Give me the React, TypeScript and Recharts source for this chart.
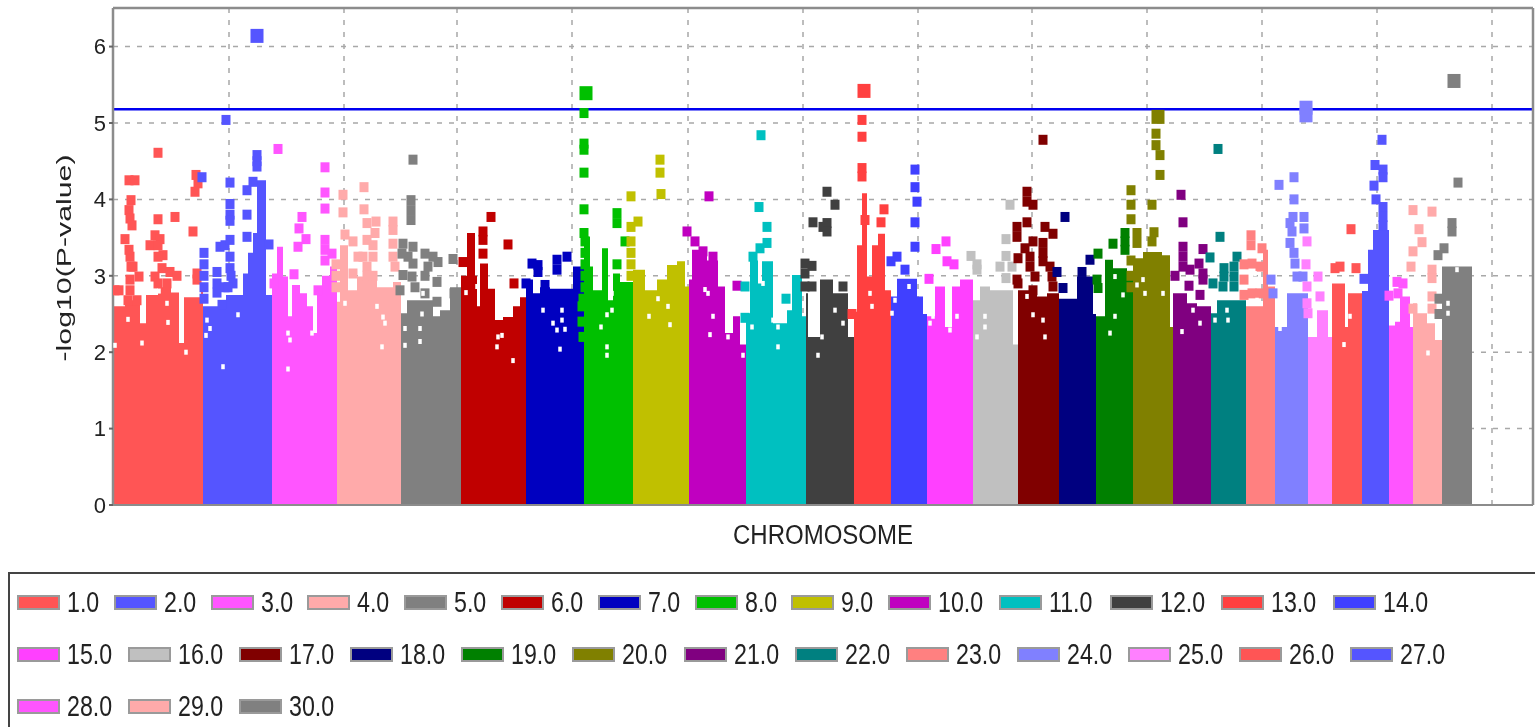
import React from "react";
import {
  ComposedChart, Area, Scatter, XAxis, YAxis, CartesianGrid, ReferenceLine, Legend, Label,
} from "recharts";

type Pair = [number, number];

const chromLabels = ["1.0","2.0","3.0","4.0","5.0","6.0","7.0","8.0","9.0","10.0","11.0","12.0","13.0","14.0","15.0","16.0","17.0","18.0","19.0","20.0","21.0","22.0","23.0","24.0","25.0","26.0","27.0","28.0","29.0","30.0"];
const chromColors = ["#FF5555","#5555FF","#FF55FF","#FFAAAA","#808080","#C00000","#0000C0","#00C000","#C0C000","#C000C0","#00C0C0","#404040","#FF4040","#4040FF","#FF40FF","#C0C0C0","#800000","#000080","#008000","#808000","#800080","#008080","#FF8080","#8080FF","#FF80FF","#FF5555","#5555FF","#FF55FF","#FFAAAA","#808080"];
const chromEnds = [90,159,224,288,348,413,471,520,576,633,693,741,778,814,860,905,946,983,1020,1060,1098,1133,1162,1195,1219,1249,1276,1300,1329,1359];
const yTicks = [0,1,2,3,4,5,6];
const xGridTicks = [116,231,344,459,575,690,805,919,1034,1149,1264,1379];
const significanceLine = 5.18;

// Solid mass of each chromosome: [position, upper -log10(p)]
const env1: Pair[] = [[0,2.6],[12,2.68],[27,2.38],[33,2.75],[45,2.85],[58,2.78],[66,2.12],[71,2.72],[88,2.8]];
const env2: Pair[] = [[90,2.6],[110,2.57],[113,2.75],[130,3.03],[135,3.3],[140,3.56],[144,4.25],[153,2.75]];
const env3: Pair[] = [[159,3.03],[164,3.38],[170,2.99],[175,2.47],[179,2.88],[187,2.77],[194,2.6],[200,2.25],[204,2.77],[209,3.0],[217,3.12]];
const env4: Pair[] = [[224,2.66],[227,3.4],[235,2.81],[244,2.99],[264,2.85],[280,2.92]];
const env5: Pair[] = [[288,2.51],[294,2.68],[320,2.47],[327,2.55],[337,2.85]];
const env6: Pair[] = [[348,3.0],[354,3.56],[362,3.0],[364,2.6],[367,3.16],[375,2.83],[382,2.42],[390,2.46],[400,2.6],[407,2.72]];
const env7: Pair[] = [[413,2.95],[420,2.77],[427,2.85],[437,2.83],[460,3.12]];
const env8: Pair[] = [[471,3.51],[477,3.12],[480,2.81],[489,3.36],[495,2.68],[500,3.03],[507,2.92]];
const env9: Pair[] = [[520,3.08],[532,2.81],[544,2.95],[554,3.14],[564,3.19],[572,2.86]];
const env10: Pair[] = [[576,2.95],[579,3.34],[594,3.2],[605,2.86],[612,2.25],[620,2.47],[627,2.1]];
const env11: Pair[] = [[633,2.51],[637,3.2],[645,2.9],[649,3.19],[660,2.38],[674,2.55],[679,3.01],[689,2.47]];
const env12: Pair[] = [[693,2.77],[695,2.2],[707,2.95],[720,2.77],[735,2.2]];
const env13: Pair[] = [[741,2.53],[744,3.4],[749,4.08],[754,2.99],[759,3.4],[765,3.55],[772,2.81]];
const env14: Pair[] = [[778,2.73],[784,2.96],[804,2.73],[810,2.5]];
const env15: Pair[] = [[814,2.47],[822,2.86],[832,2.33],[839,2.86],[847,2.95]];
const env16: Pair[] = [[860,2.68],[867,2.86],[877,2.81],[900,2.1]];
const env17: Pair[] = [[905,2.81],[924,2.73],[934,2.77]];
const env18: Pair[] = [[946,2.7],[964,2.99],[980,2.5]];
const env19: Pair[] = [[983,2.47],[992,3.21],[1000,3.1],[1014,3.03]];
const env20: Pair[] = [[1020,3.23],[1030,3.31],[1049,3.27],[1057,2.33]];
const env21: Pair[] = [[1060,2.77],[1074,2.64],[1084,2.6]];
const env22: Pair[] = [[1098,2.51],[1104,2.68],[1117,2.68]];
const env23: Pair[] = [[1133,2.6],[1150,3.34],[1155,2.86]];
const env24: Pair[] = [[1162,2.33],[1174,2.77]];
const env25: Pair[] = [[1195,2.2],[1204,2.55],[1215,2.2]];
const env26: Pair[] = [[1219,2.9],[1232,2.33],[1235,2.77]];
const env27: Pair[] = [[1249,2.8],[1255,3.34],[1260,3.6]];
const env28: Pair[] = [[1276,2.35],[1282,2.4],[1287,2.73],[1297,2.33]];
const env29: Pair[] = [[1300,2.64],[1304,2.51],[1314,2.38],[1322,2.16]];
const env30: Pair[] = [[1329,3.12]];

// Individual markers above the solid mass
const pts1: Pair[] = [[2,2.81],[6,2.81],[17,2.95],[17,2.81],[24,2.68],[15,2.68],[17,3.25],[20,3.12],[26,2.99],[18,3.12],[12,3.48],[16,3.34],[18,3.99],[16,3.86],[17,3.75],[19,3.66],[16,4.25],[22,4.25],[45,4.61],[45,3.74],[62,3.77],[80,3.58],[42,3.53],[47,3.48],[37,3.4],[45,3.4],[50,3.27],[45,3.25],[49,3.1],[57,3.05],[64,3.0],[42,2.99],[45,2.9],[54,2.9],[84,3.03],[84,2.95],[83,4.32],[85,4.21],[82,4.1]];
const pts2: Pair[] = [[91,3.3],[91,3.15],[91,3.0],[91,2.85],[91,2.7],[104,3.05],[104,2.9],[104,2.78],[109,2.62],[112,2.85],[117,3.25],[117,3.1],[118,3],[120,2.9],[115,2.85],[107,3.38],[112,3.4],[117,3.47],[117,3.94],[117,3.8],[117,3.72],[117,4.22],[113,5.04],[89,4.29],[144,4.5],[144,4.58],[144,4.43],[134,4.12],[140,4.23],[134,3.8],[134,3.51],[156,3.41]];
const pts3: Pair[] = [[161,2.9],[165,4.66],[212,4.42],[212,4.09],[212,3.88],[189,3.77],[186,3.62],[193,3.48],[185,3.38],[181,3.02],[212,3.47],[212,3.34],[212,3.2],[219,3.29],[205,2.81]];
const pts4: Pair[] = [[223,3.15],[223,3.0],[223,2.85],[230,4.06],[230,3.83],[232,3.54],[240,3.45],[240,3.03],[251,4.16],[251,3.87],[254,3.69],[263,3.71],[262,3.56],[254,3.47],[260,3.4],[250,3.25],[260,3.25],[245,3.25],[254,3.12],[254,3.0],[260,3.0],[280,3.71],[280,3.6],[280,3.42],[280,3.25],[282,3.12]];
const pts5: Pair[] = [[300,4.52],[298,3.99],[298,3.86],[298,3.73],[290,3.42],[300,3.38],[289,3.29],[295,3.25],[300,3.16],[290,3.01],[287,2.81],[299,2.99],[302,2.85],[312,3.29],[320,3.25],[325,3.18],[315,3.12],[312,3.0],[324,2.92],[312,2.77],[324,2.66],[340,3.22],[341,2.77]];
const pts6: Pair[] = [[378,3.77],[370,3.58],[370,3.47],[370,3.29],[395,3.41],[401,2.9],[350,3.18]];
const pts7: Pair[] = [[413,2.9],[419,3.16],[425,3.14],[425,3.05],[444,3.21],[454,3.25],[444,3.08],[432,2.88]];
const pts8: Pair[] = [[472,3.45],[472,3.3],[472,3.15],[472,3.0],[472,2.85],[470,2.7],[469,2.6],[469,2.4],[470,2.2],[471,5.13],[471,4.73],[471,4.65],[471,4.35],[471,3.87],[471,3.56],[504,3.82],[504,3.69],[512,3.45],[504,3.15]];
const pts9: Pair[] = [[518,3.45],[518,3.3],[518,3.15],[518,3.0],[547,4.52],[547,4.35],[548,4.07],[518,4.04],[525,3.71],[518,3.64]];
const pts10: Pair[] = [[596,4.04],[574,3.58],[582,3.45],[624,2.87],[590,3.32],[600,3.25]];
const pts11: Pair[] = [[632,2.45],[648,4.84],[646,3.9],[654,3.64],[654,3.43],[647,3.36],[640,3.25],[673,2.7],[632,2.86]];
const pts12: Pair[] = [[714,4.1],[722,3.93],[700,3.7],[714,3.69],[710,3.64],[714,3.58],[692,3.16],[699,3.13],[692,3.03],[699,2.86],[692,2.86],[730,2.86]];
const pts13: Pair[] = [[739,2.5],[749,5.04],[749,4.82],[749,4.41],[749,4.3],[771,3.87],[768,3.7],[752,3.73]];
const pts14: Pair[] = [[802,4.39],[802,4.16],[804,3.97],[802,3.7],[802,3.38],[784,3.25],[778,3.19],[792,3.08]];
const pts15: Pair[] = [[823,3.35],[833,3.45],[834,3.19],[841,3.15],[816,2.96]];
const pts16: Pair[] = [[897,3.93],[893,3.48],[858,3.26],[864,3.15],[864,3.08],[893,3.26],[887,3.12],[899,3.12],[893,2.97]];
const pts17: Pair[] = [[930,4.78],[914,4.1],[914,3.97],[920,3.93],[914,3.7],[932,3.64],[940,3.55],[904,3.64],[904,3.51],[920,3.45],[912,3.36],[930,3.43],[930,3.3],[905,3.23],[917,3.25],[930,3.19],[937,3.12],[917,3.12],[922,2.99],[904,2.95],[939,2.99],[940,2.86],[920,2.81],[905,2.9]];
const pts18: Pair[] = [[952,3.77],[977,3.21],[969,3.05],[950,2.84],[944,3.05]];
const pts19: Pair[] = [[1012,3.56],[1012,3.45],[1012,3.34],[1000,3.42],[985,3.29],[984,2.95],[985,2.84]];
const pts20: Pair[] = [[1018,3.2],[1018,3.0],[1018,2.85],[1043,4.86],[1043,4.71],[1047,4.58],[1047,4.32],[1018,4.12],[1018,3.93],[1018,3.74],[1039,3.93],[1024,3.56],[1041,3.57],[1039,3.45],[1024,3.43]];
const pts21: Pair[] = [[1068,4.06],[1070,3.7],[1070,3.38],[1070,3.25],[1090,3.35],[1086,3.16],[1077,3.08],[1090,3.03],[1090,2.95],[1062,3.0],[1070,3.12],[1076,2.87],[1087,2.75]];
const pts22: Pair[] = [[1105,4.66],[1107,3.51],[1097,3.24],[1124,3.25],[1111,3.1],[1121,3.12],[1111,2.99],[1121,2.99],[1100,2.9],[1110,2.86],[1121,2.86]];
const pts23: Pair[] = [[1131,3.15],[1131,2.95],[1131,2.75],[1138,3.53],[1138,3.4],[1149,3.36],[1139,3.16],[1147,3.12],[1139,2.77],[1147,2.77]];
const pts24: Pair[] = [[1181,4.29],[1166,4.19],[1181,4.0],[1180,3.77],[1177,3.69],[1179,3.58],[1191,3.77],[1191,3.62],[1177,3.43],[1181,3.3],[1182,3.16],[1184,2.99],[1190,2.99],[1158,2.95],[1160,2.77]];
const pts25: Pair[] = [[1194,3.45],[1193,3.15],[1205,2.99],[1194,2.86],[1207,2.73],[1194,2.64],[1195,2.51]];
const pts26: Pair[] = [[1238,3.61],[1222,3.1],[1227,3.12],[1243,3.1]];
const pts27: Pair[] = [[1269,4.78],[1262,4.45],[1270,4.39],[1270,4.29],[1261,4.18],[1263,4.0],[1270,3.9],[1270,3.77],[1270,3.66],[1251,2.96]];
const pts28: Pair[] = [[1284,2.92],[1290,2.9],[1285,2.77],[1276,2.74]];
const pts29: Pair[] = [[1300,3.86],[1319,3.84],[1306,3.61],[1309,3.44],[1300,3.32],[1298,3.12],[1319,3.08],[1319,2.97],[1319,2.73],[1319,2.57],[1300,2.57]];
const pts30: Pair[] = [[1326,2.7],[1326,2.5],[1345,4.22],[1339,3.69],[1339,3.58],[1331,3.36],[1325,3.27]];

// Genome-wide significant markers, drawn larger
const sigChroms = [2,8,13,20,24,24,30];
const sigX = [144,473,751,1045,1193,1193,1341];
const sigY = [6.14,5.39,5.42,5.08,5.2,5.1,5.55];

// Positions where no marker covers the mass
const holes: Pair[] = [[29,2.12],[55,2.39],[54,2.64],[46,2.8],[73,2.0],[2,2.09],[15,2.43],[97,2.31],[94,2.42],[125,2.49],[110,1.81],[93,2.22],[175,2.25],[177,2.16],[199,2.25],[175,1.78],[270,2.46],[272,2.38],[264,2.6],[269,2.07],[232,2.64],[307,2.14],[292,2.31],[292,2.09],[309,2.5],[307,2.31],[310,2.77],[385,2.2],[384,2.07],[389,2.22],[364,2.86],[400,1.89],[353,2.78],[440,2.38],[444,2.29],[449,2.55],[449,2.42],[430,2.55],[452,2.3],[447,2.04],[494,2.49],[499,2.55],[494,2.07],[494,1.96],[488,2.33],[499,2.77],[555,2.6],[557,2.36],[536,2.47],[545,2.7],[597,2.23],[615,2.2],[595,2.77],[592,2.82],[600,2.47],[630,1.96],[665,2.07],[665,2.33],[639,2.33],[650,2.9],[660,2.42],[705,1.96],[709,2.2],[722,2.55],[730,2.38],[757,2.77],[759,2.6],[796,2.86],[782,2.68],[779,2.51],[834,2.51],[817,2.38],[844,2.47],[820,2.47],[837,2.29],[872,2.47],[864,2.2],[872,2.33],[930,2.42],[914,2.73],[920,2.49],[932,2.2],[997,2.25],[1002,2.47],[1010,2.75],[1002,2.99],[1030,2.95],[1024,2.88],[1032,2.77],[1050,2.77],[1069,2.27],[1087,2.38],[1080,2.55],[1114,2.55],[1115,2.42],[1102,2.42],[1144,2.68],[1139,2.95],[1142,3.03],[1167,2.31],[1172,2.51],[1231,2.1],[1237,2.47],[1335,2.51],[1335,2.64],[1344,3.08],[1315,1.99]];

const envelopes = [env1,env2,env3,env4,env5,env6,env7,env8,env9,env10,env11,env12,env13,env14,env15,env16,env17,env18,env19,env20,env21,env22,env23,env24,env25,env26,env27,env28,env29,env30];
const markers = [pts1,pts2,pts3,pts4,pts5,pts6,pts7,pts8,pts9,pts10,pts11,pts12,pts13,pts14,pts15,pts16,pts17,pts18,pts19,pts20,pts21,pts22,pts23,pts24,pts25,pts26,pts27,pts28,pts29,pts30];

const toRows = (pairs: Pair[]) => pairs.map(([x, y]) => ({ x, y }));
const envRows = (pairs: Pair[], end: number) => [...toRows(pairs), { x: end, y: pairs[pairs.length - 1][1] }];

const makeSquare = (w: number, h: number, fill: string) => (props: any) => (
  <rect x={props.cx - w / 2} y={props.cy - h / 2} width={w} height={h} fill={fill} />
);

const legendRows = [chromLabels.slice(0, 14), chromLabels.slice(14, 27), chromLabels.slice(27)];
const legendRowTops = [20, 72, 124];

const FineLegend = () => (
  <div style={{ position: "relative", width: 1535, height: 170, boxSizing: "border-box", borderTop: "2px solid #444", borderLeft: "2px solid #444", background: "#fff", fontFamily: "'Liberation Sans', Arial, sans-serif" }}>
    {legendRows.map((row, r) => (
      <div key={r} style={{ position: "absolute", left: 7, top: legendRowTops[r], display: "flex", whiteSpace: "nowrap" }}>
        {row.map((label) => {
          const colour = chromColors[chromLabels.indexOf(label)];
          return (
            <div key={label} style={{ width: label.length > 3 ? 111.1 : 96.8, display: "flex", alignItems: "center", height: 16 }}>
              <span style={{ display: "block", width: 43, height: 15, boxSizing: "border-box", background: colour, border: "2px solid #9a9a9a" }} />
              <span style={{ display: "block", marginLeft: 7, fontSize: 29, lineHeight: "16px", color: "#222", transform: "scaleX(0.8)", transformOrigin: "left center" }}>{label}</span>
            </div>
          );
        })}
      </div>
    ))}
  </div>
);

const AxisTitleX = () => (
  <text x={823} y={544} textAnchor="middle" fontSize={27} fill="#222" textLength={180} lengthAdjust="spacingAndGlyphs" fontFamily="'Liberation Sans', Arial, sans-serif">
    CHROMOSOME
  </text>
);

const AxisTitleY = () => {
  const cx = 71;
  const cy = 258;
  return (
    <text x={cx} y={cy} transform={`rotate(-90 ${cx} ${cy})`} textAnchor="middle" fontSize={21} fill="#222" textLength={207} lengthAdjust="spacingAndGlyphs" fontFamily="'Liberation Sans', Arial, sans-serif">
      -log10(P-value)
    </text>
  );
};

const NoTick = () => <g />;

export default function App() {
  return (
    <div style={{ position: "absolute", left: 0, top: 0, width: 1535, height: 727, overflow: "hidden", background: "#fff", filter: "blur(0.5px)" }}>
      <ComposedChart width={1535} height={727} margin={{ top: 8, right: 2, bottom: 22, left: 0 }}>
        <CartesianGrid stroke="#a8a8a8" strokeWidth={1.5} strokeDasharray="5 7" />
        <XAxis dataKey="x" type="number" domain={[0, 1420]} ticks={xGridTicks} interval={0} tick={NoTick} tickLine={false} axisLine={false} height={30} allowDataOverflow>
          <Label content={<AxisTitleX />} />
        </XAxis>
        <YAxis type="number" dataKey="y" domain={[0, 6.505]} ticks={yTicks} width={113} tick={{ fontSize: 22, fill: "#222", fontFamily: "'Liberation Sans', Arial, sans-serif" }} tickLine={{ stroke: "#666", strokeWidth: 2 }} tickSize={4} tickMargin={3} axisLine={false} allowDataOverflow>
          <Label content={<AxisTitleY />} />
        </YAxis>
        {envelopes.map((pairs, i) => (
          <Area key={`env${i}`} data={envRows(pairs, chromEnds[i])} dataKey="y" type="stepAfter" stroke="none" fill={chromColors[i]} fillOpacity={1} baseValue={0} dot={false} activeDot={false} isAnimationActive={false} legendType="none" />
        ))}
        {markers.map((pairs, i) => (
          <Scatter key={`pts${i}`} data={toRows(pairs)} dataKey="y" fill={chromColors[i]} shape={makeSquare(9, 10, chromColors[i])} isAnimationActive={false} legendType="none" />
        ))}
        <Scatter data={toRows(holes)} dataKey="y" fill="#fff" shape={makeSquare(3.5, 5, "#fff")} isAnimationActive={false} legendType="none" />
        {sigChroms.map((c, i) => (
          <Scatter key={`sig${i}`} data={[{ x: sigX[i], y: sigY[i] }]} dataKey="y" fill={chromColors[c - 1]} shape={makeSquare(13, 14, chromColors[c - 1])} isAnimationActive={false} legendType="none" />
        ))}
        <ReferenceLine y={significanceLine} stroke="#0000F0" strokeWidth={2.5} />
        <ReferenceLine x={0} stroke="#8c8c8c" strokeWidth={2.5} />
        <ReferenceLine x={1420} stroke="#8c8c8c" strokeWidth={2.5} />
        <ReferenceLine y={0} stroke="#8c8c8c" strokeWidth={2} />
        <ReferenceLine y={6.505} stroke="#8c8c8c" strokeWidth={2.5} />
        <Legend content={<FineLegend />} layout="horizontal" wrapperStyle={{ position: "absolute", left: 8, top: 572, width: 1535, height: 170, bottom: "auto" }} />
      </ComposedChart>
    </div>
  );
}
